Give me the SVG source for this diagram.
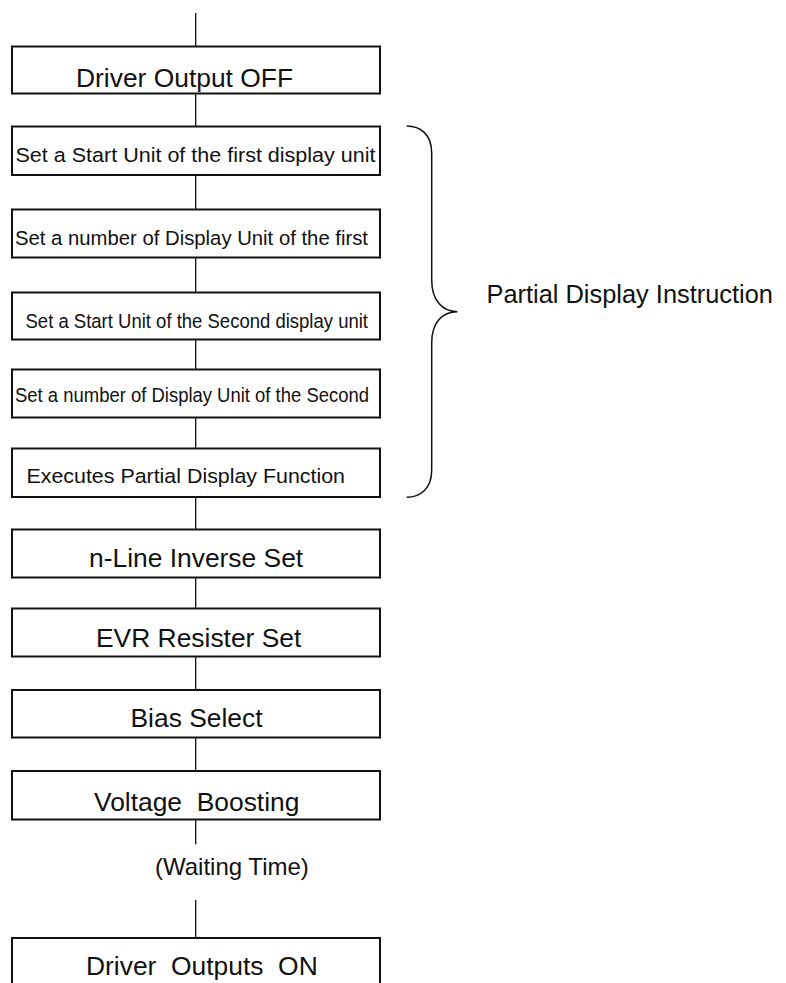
<svg xmlns="http://www.w3.org/2000/svg" width="786" height="983" viewBox="0 0 786 983">
  <style>
    .box { fill: #ffffff; stroke: #111111; stroke-width: 2; }
    .link { stroke: #111111; stroke-width: 1.3; fill: none; }
    .brace { stroke: #111111; stroke-width: 1.5; fill: none; }
    text { font-family: "Liberation Sans", Arial, sans-serif; fill: #111111; white-space: pre; }
    .big { font-size: 26.4px; }
    .small { font-size: 20.5px; }
    .note { font-size: 24px; }
    .label { font-size: 25.4px; }
  </style>
  <rect width="786" height="983" fill="#ffffff"/>

  <!-- vertical flow connectors -->
  <g id="connectors">
    <line class="link" x1="195.7" y1="13" x2="195.7" y2="46.5"/>
    <line class="link" x1="195.7" y1="93.5" x2="195.7" y2="126.5"/>
    <line class="link" x1="195.7" y1="175" x2="195.7" y2="209.5"/>
    <line class="link" x1="195.7" y1="257.5" x2="195.7" y2="292.5"/>
    <line class="link" x1="195.7" y1="339.5" x2="195.7" y2="369.5"/>
    <line class="link" x1="195.7" y1="417.5" x2="195.7" y2="448.5"/>
    <line class="link" x1="195.7" y1="497" x2="195.7" y2="529.5"/>
    <line class="link" x1="195.7" y1="577.5" x2="195.7" y2="608.5"/>
    <line class="link" x1="195.7" y1="656.5" x2="195.7" y2="690"/>
    <line class="link" x1="195.7" y1="737.5" x2="195.7" y2="771"/>
    <line class="link" x1="195.7" y1="819.5" x2="195.7" y2="844.3"/>
    <line class="link" x1="195.7" y1="900" x2="195.7" y2="940"/>
  </g>

  <g id="driver-output-off">
    <rect class="box" x="12" y="46.5" width="368" height="47"/>
    <text class="big" x="76" y="87.3">Driver Output OFF</text>
  </g>

  <g id="start-unit-first">
    <rect class="box" x="12" y="126.5" width="368" height="48.5"/>
    <text class="small" x="15.5" y="162.3" textLength="360" lengthAdjust="spacingAndGlyphs">Set a Start Unit of the first display unit</text>
  </g>

  <g id="number-first">
    <rect class="box" x="12" y="209.5" width="368" height="48"/>
    <text class="small" x="15" y="245" textLength="353" lengthAdjust="spacingAndGlyphs">Set a number of Display Unit of the first</text>
  </g>

  <g id="start-unit-second">
    <rect class="box" x="12" y="292.5" width="368" height="47"/>
    <text class="small" x="25.5" y="327.7" textLength="342.5" lengthAdjust="spacingAndGlyphs">Set a Start Unit of the Second display unit</text>
  </g>

  <g id="number-second">
    <rect class="box" x="12" y="369.5" width="368" height="48"/>
    <text class="small" x="15" y="401.7" textLength="354" lengthAdjust="spacingAndGlyphs">Set a number of Display Unit of the Second</text>
  </g>

  <g id="execute-partial">
    <rect class="box" x="12" y="448.5" width="368" height="48.5"/>
    <text class="small" x="26.5" y="482.7" textLength="318.5" lengthAdjust="spacingAndGlyphs">Executes Partial Display Function</text>
  </g>

  <g id="n-line-inverse">
    <rect class="box" x="12" y="529.5" width="368" height="48"/>
    <text class="big" x="89" y="567.3">n-Line Inverse Set</text>
  </g>

  <g id="evr-register">
    <rect class="box" x="12" y="608.5" width="368" height="48"/>
    <text class="big" x="96" y="646.7">EVR Resister Set</text>
  </g>

  <g id="bias-select">
    <rect class="box" x="12" y="690" width="368" height="47.5"/>
    <text class="big" x="130.5" y="726.7">Bias Select</text>
  </g>

  <g id="voltage-boosting">
    <rect class="box" x="12" y="771" width="368" height="48.5"/>
    <text class="big" x="94" y="810.7">Voltage  Boosting</text>
  </g>

  <g id="waiting-time">
    <text class="note" x="155" y="875">(Waiting Time)</text>
  </g>

  <g id="driver-outputs-on">
    <rect class="box" x="12" y="938" width="368" height="60"/>
    <text class="big" x="86" y="975">Driver  Outputs  ON</text>
  </g>

  <!-- brace grouping the partial display steps -->
  <g id="partial-display-instruction">
    <path class="brace" d="M406.7,126 C420,126 431.7,134 431.7,153 L431.7,280 C431.7,300 442,311.7 457.3,311.7 C442,311.7 431.7,323 431.7,343 L431.7,470 C431.7,489 420,497.3 406.7,497.3"/>
    <text class="label" x="486.5" y="303.3">Partial Display Instruction</text>
  </g>
</svg>
